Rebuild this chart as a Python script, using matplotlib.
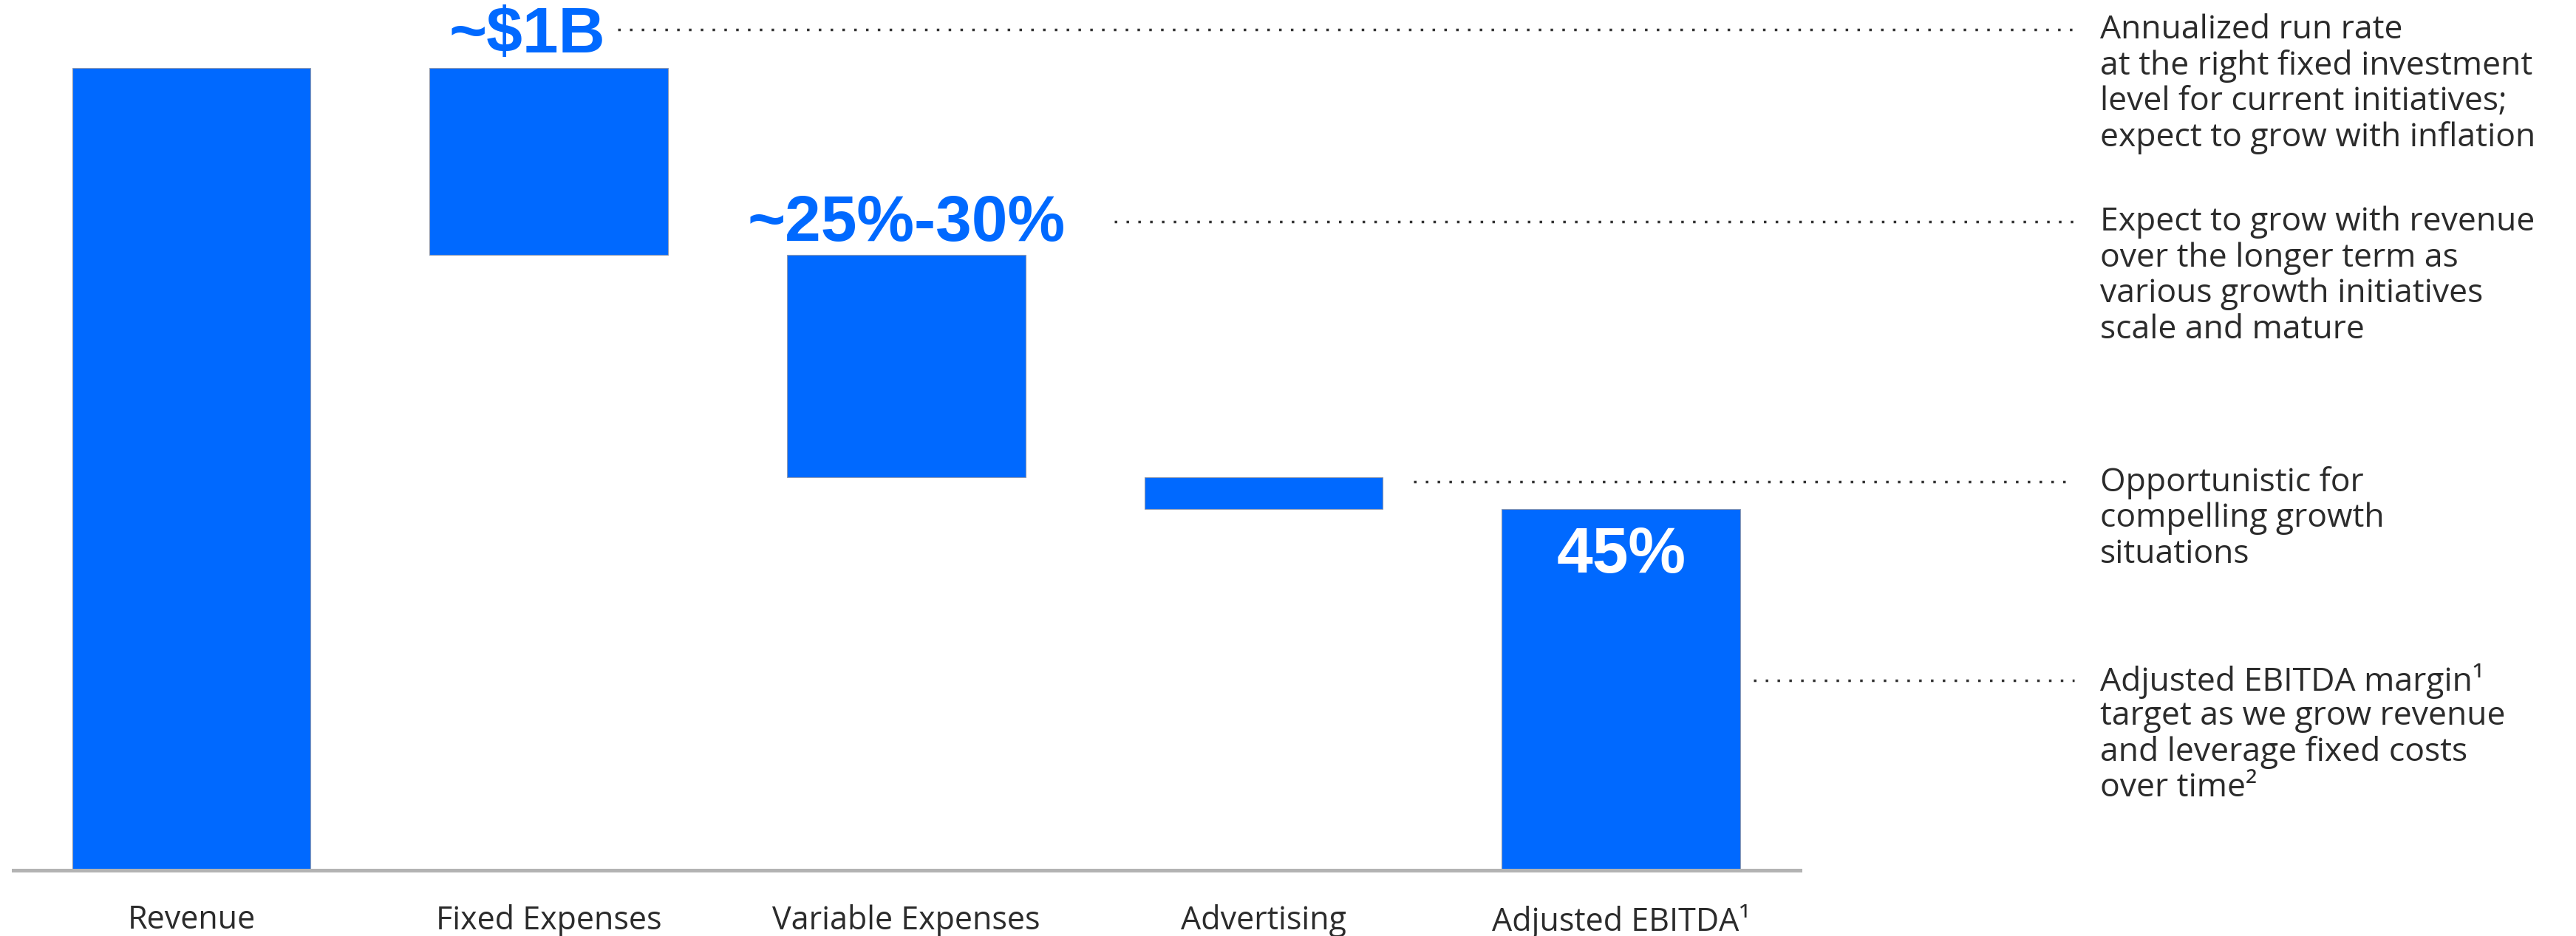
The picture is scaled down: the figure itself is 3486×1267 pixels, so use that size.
import matplotlib
matplotlib.use("Agg")
import matplotlib.pyplot as plt
import matplotlib.transforms as mtransforms

# ---- data -------------------------------------------------------------
categories = ["Revenue", "Fixed Expenses", "Variable Expenses", "Advertising",
              "Adjusted EBITDA\u00b9"]
revenue = 100.0
fixed_expenses = 23.3
variable_expenses = 27.7
advertising = 4.0
adjusted_ebitda = 45.0

bar_labels = ["~$1B", "~25%-30%", "45%"]

notes = [
    ["Annualized run rate", "at the right fixed investment",
     "level for current initiatives;", "expect to grow with inflation"],
    ["Expect to grow with revenue", "over the longer term as",
     "various growth initiatives", "scale and mature"],
    ["Opportunistic for", "compelling growth", "situations"],
    ["Adjusted EBITDA margin\u00b9", "target as we grow revenue",
     "and leverage fixed costs", "over time\u00b2"],
]

# ---- waterfall geometry ------------------------------------------------
heights = [revenue, fixed_expenses, variable_expenses, advertising, adjusted_ebitda]
bottoms = [0.0,
           revenue - fixed_expenses,
           revenue - fixed_expenses - variable_expenses,
           revenue - fixed_expenses - variable_expenses - advertising,
           0.0]

BLUE = "#0069FF"
TEXT = "#2b2b2b"
W, H = 3487, 1267

fig = plt.figure(figsize=(W / 100, H / 100), dpi=100)
ax = fig.add_axes([18 / W, (H - 1178) / H, (2436 - 18) / W, 1178 / H])

x = list(range(len(categories)))
ax.bar(x, heights, bottom=bottoms, width=0.667, color=BLUE,
       edgecolor="#8f9bb3", linewidth=0.8, zorder=2)

ax.set_xlim(-0.498, 4.501)
ax.set_ylim(0, 108.47)

for s in ["top", "right", "left"]:
    ax.spines[s].set_visible(False)
ax.spines["bottom"].set_color("#b3b3b3")
ax.spines["bottom"].set_linewidth(3.6)
ax.spines["bottom"].set_zorder(3)
ax.set_yticks([])
ax.set_xticks(x)
ax.set_xticklabels(categories, fontsize=31, family="Open Sans", color=TEXT)
ax.tick_params(axis="x", length=0, pad=33)

bold = dict(family="Liberation Sans", fontweight="bold", fontsize=63,
            ha="center", va="center")
ax.text(0.94, 104.0, bar_labels[0], color=BLUE, **bold)
ax.text(2.0, 80.5, bar_labels[1], color=BLUE, **bold)
ax.text(4.0, 39.2, bar_labels[2], color="white", zorder=4, **bold)

# ---- leader lines and side notes ----------------------------------------
blend = mtransforms.blended_transform_factory(fig.transFigure, ax.transData)
line_y = [104.8, 80.85, 48.4, 23.7]
line_x0 = [836 / W, 1508 / W, 1913 / W, 2373 / W]
line_x1 = 2807 / W
text_x = 2842 / W
line_step = 48.5 / 100  # inches between note lines

for y, x0, lines in zip(line_y, line_x0, notes):
    ln, = ax.plot([x0, line_x1], [y, y], transform=blend, color="#333333",
                  linewidth=2.5, clip_on=False, solid_capstyle="butt",
                  dash_capstyle="butt")
    ln.set_dashes((1, 3.6))
    for i, txt in enumerate(lines):
        off = mtransforms.ScaledTranslation(0, -i * line_step + 0.045,
                                            fig.dpi_scale_trans)
        fig.text(text_x, y, txt, transform=blend + off, fontsize=32,
                 family="Open Sans", color=TEXT, ha="left",
                 va="center_baseline")

fig.savefig("out.png", dpi=100, facecolor="white")
